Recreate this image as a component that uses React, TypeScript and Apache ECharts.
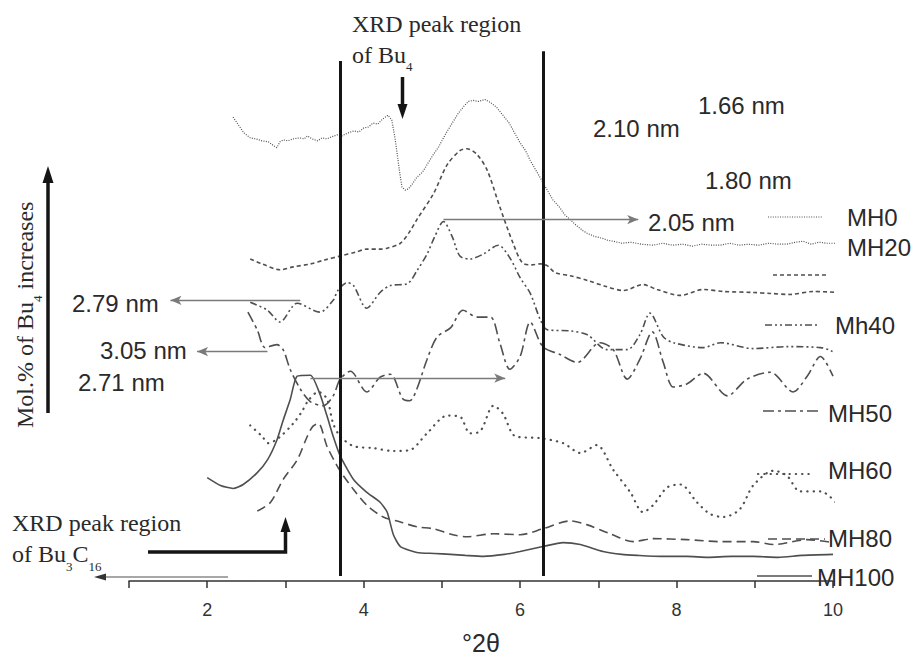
import React, { useEffect, useRef } from 'react';
import * as echarts from 'echarts';

// ---------- data (°2θ, intensity a.u., stacked offsets) ----------
const seriesNames = ['MH0', 'MH20', 'Mh40', 'MH50', 'MH60', 'MH80', 'MH100'];

const mh0: [number, number][] = [
  [2.33, 471], [2.40, 463], [2.47, 455], [2.55, 450], [2.62, 449], [2.70, 447], [2.78, 446], [2.85, 442],
  [2.89, 440], [2.93, 446], [2.97, 448], [3.03, 447], [3.10, 449], [3.18, 450], [3.24, 449], [3.28, 452],
  [3.34, 449], [3.41, 447], [3.47, 450], [3.53, 449], [3.59, 451], [3.66, 453], [3.72, 452], [3.80, 455],
  [3.87, 457], [3.94, 456], [4.00, 460], [4.06, 461], [4.12, 465], [4.18, 464], [4.24, 469], [4.31, 473],
  [4.36, 468], [4.40, 450], [4.43, 433], [4.46, 415], [4.49, 400], [4.53, 397], [4.57, 398], [4.62, 403],
  [4.68, 410], [4.75, 415], [4.82, 424], [4.89, 433], [4.96, 441], [5.02, 450], [5.07, 457], [5.14, 466],
  [5.21, 475], [5.28, 482], [5.34, 487], [5.40, 488], [5.47, 487], [5.55, 489], [5.62, 486], [5.70, 481],
  [5.78, 473], [5.86, 465], [5.93, 455], [6.00, 445], [6.07, 437], [6.13, 427], [6.21, 416], [6.29, 405],
  [6.36, 395], [6.42, 387], [6.50, 380], [6.57, 372], [6.64, 367], [6.72, 361], [6.80, 356], [6.86, 353],
  [6.95, 350], [7.05, 348], [7.12, 346], [7.19, 345], [7.30, 343], [7.42, 344], [7.55, 342], [7.70, 341],
  [7.82, 343], [7.95, 341], [8.08, 342], [8.20, 340], [8.32, 342], [8.45, 341], [8.56, 341], [8.68, 343],
  [8.80, 341], [8.92, 342], [9.05, 341], [9.18, 343], [9.30, 342], [9.41, 342], [9.52, 344], [9.62, 345],
  [9.72, 342], [9.82, 344], [9.92, 343], [10.02, 343], [10.09, 343],
];

const mh20: [number, number][] = [
  [2.55, 327], [2.70, 322], [2.93, 316], [3.10, 319], [3.32, 322], [3.50, 326], [3.70, 330], [3.90, 334],
  [4.04, 337], [4.20, 337], [4.30, 338], [4.47, 343], [4.59, 355], [4.68, 367], [4.89, 393], [5.07, 423],
  [5.23, 437], [5.32, 439], [5.45, 433], [5.58, 417], [5.74, 380], [5.91, 343], [6.03, 323], [6.15, 321],
  [6.26, 322], [6.35, 320], [6.45, 313], [6.64, 310], [6.87, 305], [7.10, 299], [7.32, 295], [7.57, 301],
  [7.75, 296], [8.05, 290], [8.34, 296], [8.60, 294], [8.98, 293], [9.20, 292], [9.45, 291], [9.75, 294],
  [10.06, 293],
];

const mh40: [number, number][] = [
  [2.55, 283], [2.77, 275], [2.93, 263], [3.15, 282], [3.44, 273], [3.61, 285], [3.67, 295], [3.79, 303],
  [3.87, 300], [4.04, 277], [4.21, 293], [4.34, 300], [4.56, 302], [4.68, 315], [4.81, 332], [4.91, 350],
  [5.02, 365], [5.13, 350], [5.23, 330], [5.36, 327], [5.53, 332], [5.72, 341], [5.87, 328], [6.00, 308],
  [6.13, 292], [6.26, 265], [6.35, 255], [6.64, 254], [6.86, 250], [7.11, 235], [7.37, 235], [7.53, 250],
  [7.66, 272], [7.83, 248], [7.96, 242], [8.34, 237], [8.56, 242], [8.98, 236], [9.41, 238], [9.84, 237],
  [9.97, 234], [10.12, 227],
];

const mh50: [number, number][] = [
  [2.52, 273], [2.64, 255], [2.74, 237], [2.89, 240], [2.97, 235], [3.06, 215], [3.19, 195], [3.32, 182],
  [3.48, 178], [3.61, 188], [3.70, 205], [3.83, 213], [4.04, 192], [4.21, 207], [4.34, 210], [4.50, 185],
  [4.59, 183], [4.68, 195], [4.81, 225], [4.94, 248], [5.11, 257], [5.27, 275], [5.45, 268], [5.62, 268],
  [5.74, 242], [5.87, 215], [6.00, 228], [6.13, 263], [6.29, 238], [6.51, 230], [6.73, 222], [7.02, 242],
  [7.19, 235], [7.37, 205], [7.53, 225], [7.69, 253], [7.83, 222], [7.96, 197], [8.13, 200], [8.34, 211],
  [8.65, 188], [8.90, 205], [9.20, 212], [9.49, 192], [9.67, 208], [9.84, 228], [10.00, 208],
];

const mh60: [number, number][] = [
  [2.55, 158], [2.70, 147], [2.78, 140], [2.91, 145], [3.10, 160], [3.21, 172], [3.29, 183], [3.42, 192],
  [3.53, 185], [3.61, 160], [3.70, 147], [3.87, 137], [4.12, 135], [4.38, 132], [4.59, 133], [4.81, 150],
  [5.07, 168], [5.23, 167], [5.36, 150], [5.49, 152], [5.66, 178], [5.78, 170], [5.94, 147], [6.26, 145],
  [6.55, 140], [6.77, 130], [6.98, 138], [7.19, 113], [7.41, 90], [7.57, 70], [7.70, 77], [7.88, 95],
  [8.05, 98], [8.26, 80], [8.43, 68], [8.60, 65], [8.81, 73], [8.98, 97], [9.24, 112], [9.41, 107],
  [9.58, 91], [9.84, 91], [10.09, 75],
];

const mh80: [number, number][] = [
  [2.64, 71], [2.81, 80], [2.97, 103], [3.15, 123], [3.28, 147], [3.35, 157], [3.42, 160], [3.53, 137],
  [3.66, 117], [3.74, 107], [3.87, 93], [4.04, 77], [4.25, 65], [4.47, 60], [4.68, 55], [4.89, 53],
  [5.14, 47], [5.32, 45], [5.66, 48], [6.00, 47], [6.29, 53], [6.64, 61], [6.86, 57], [7.15, 48],
  [7.45, 40], [7.70, 43], [8.13, 42], [8.56, 40], [8.98, 40], [9.24, 37], [9.67, 42], [10.00, 39],
];

const mh100: [number, number][] = [
  [2.00, 105], [2.17, 97], [2.33, 94], [2.46, 98], [2.64, 110], [2.77, 123], [2.89, 143], [2.97, 163],
  [3.06, 184], [3.15, 208], [3.32, 209], [3.44, 190], [3.53, 168], [3.61, 147], [3.70, 127], [3.87, 103],
  [4.04, 90], [4.21, 80], [4.30, 70], [4.38, 47], [4.47, 35], [4.68, 29], [4.90, 28], [5.11, 27],
  [5.30, 26], [5.53, 25], [5.80, 27], [6.00, 30], [6.29, 35], [6.55, 39], [6.77, 37], [7.06, 30],
  [7.30, 27], [7.50, 26], [7.80, 25], [8.13, 25], [8.40, 24], [8.70, 25], [8.98, 25], [9.30, 24],
  [9.60, 26], [10.00, 27],
];

const xTickLabels = [2, 4, 6, 8, 10];
const peakRegionBounds = [3.7, 6.3];
const peakRegionTops = [528, 538];
const spacingArrows: { from: [number, number]; to: [number, number] }[] = [
  { from: [3.19, 285], to: [1.53, 285] },
  { from: [2.77, 233], to: [1.87, 233] },
  { from: [3.32, 206], to: [5.81, 206] },
  { from: [5.02, 367], to: [7.51, 367] },
];
const spacingLabels = ['2.79 nm', '3.05 nm', '2.71 nm', '2.05 nm', '2.10 nm', '1.66 nm', '1.80 nm'];

// ---------- styles / layout ----------
const SANS = '"Liberation Sans", Arial, Helvetica, sans-serif';
const SERIF = '"Liberation Serif", "Times New Roman", Times, serif';
const CURVE = '#4f4f4f';
const TEXT = '#2a2a2a';
const DARK = '#151515';

const curveStyles: any[] = [
  { dash: [1, 1.4], width: 1.2, smooth: false, cap: 'butt' },
  { dash: [4, 3], width: 1.6, smooth: 0.3, cap: 'butt' },
  { dash: [7, 3, 2, 3, 2, 3], width: 1.6, smooth: 0.3, cap: 'butt' },
  { dash: [11, 4, 3, 4], width: 1.6, smooth: 0.3, cap: 'butt' },
  { dash: [0.3, 6], width: 2.2, smooth: 0.3, cap: 'round' },
  { dash: [9, 5], width: 1.6, smooth: 0.3, cap: 'butt' },
  { dash: 'solid', width: 1.6, smooth: 0.2, cap: 'butt' },
];
const curveData = [mh0, mh20, mh40, mh50, mh60, mh80, mh100];

const legendLayout = [
  { sx1: 768, sx2: 823, sy: 217, tx: 847, ty: 217 },
  { sx1: 773, sx2: 828, sy: 275, tx: 847, ty: 247 },
  { sx1: 765, sx2: 820, sy: 325, tx: 835, ty: 325 },
  { sx1: 763, sx2: 818, sy: 411, tx: 828, ty: 413 },
  { sx1: 758, sx2: 813, sy: 474, tx: 828, ty: 470 },
  { sx1: 768, sx2: 825, sy: 539, tx: 828, ty: 538 },
  { sx1: 757, sx2: 812, sy: 576, tx: 817, ty: 577 },
];
const spacingLabelPos = [
  [72, 303], [100, 350], [78, 382], [648, 222], [593, 128], [698, 105], [705, 180],
];

let measureCtx: CanvasRenderingContext2D | null = null;
function measure(text: string, font: string): number {
  if (!measureCtx) measureCtx = document.createElement('canvas').getContext('2d');
  measureCtx!.font = font;
  return measureCtx!.measureText(text).width;
}

type Seg = { t: string; sub?: boolean };
function segText(x: number, y: number, segs: Seg[], size: number, subSize: number, subDy: number, family: string): any[] {
  const els: any[] = [];
  let cx = x;
  for (const s of segs) {
    const fs = s.sub ? subSize : size;
    els.push({
      type: 'text', x: cx, y: s.sub ? y + subDy : y, silent: true,
      style: { text: s.t, fontSize: fs, fontFamily: family, fill: TEXT, textAlign: 'left', textVerticalAlign: 'middle' },
    });
    cx += measure(s.t, `${fs}px ${family}`);
  }
  return els;
}

function sansText(x: number, y: number, text: string, size = 24): any {
  return {
    type: 'text', x, y, silent: true,
    style: { text, fontSize: size, fontFamily: SANS, fill: TEXT, textAlign: 'left', textVerticalAlign: 'middle' },
  };
}

export default function App() {
  const ref = useRef<HTMLDivElement>(null);
  useEffect(() => {
    document.body.style.margin = '0';
    const chart = echarts.init(ref.current!, null, { renderer: 'svg' });

    const series: any[] = seriesNames.map((name, i) => ({
      name,
      type: 'line',
      data: curveData[i],
      showSymbol: false,
      symbol: 'none',
      clip: false,
      smooth: curveStyles[i].smooth,
      lineStyle: { color: CURVE, width: curveStyles[i].width, type: curveStyles[i].dash, cap: curveStyles[i].cap },
      z: 3,
    }));

    series.push({
      name: 'peak-region',
      type: 'line',
      data: [],
      silent: true,
      markLine: {
        silent: true,
        symbol: 'none',
        animation: false,
        label: { show: false },
        lineStyle: { color: DARK, width: 3, type: 'solid' },
        data: peakRegionBounds.map((b, i) => [{ coord: [b, 5] }, { coord: [b, peakRegionTops[i]] }]),
      },
    });

    series.push({
      name: 'spacing-arrows',
      type: 'line',
      data: [],
      silent: true,
      markLine: {
        silent: true,
        symbol: ['none', 'arrow'],
        symbolSize: [7, 11],
        animation: false,
        label: { show: false },
        lineStyle: { color: '#7a7a7a', width: 1.3, type: 'solid' },
        data: spacingArrows.map((a) => [{ coord: a.from }, { coord: a.to }]),
      },
    });

    const graphic: any[] = [];
    // legend
    seriesNames.forEach((name, i) => {
      const L = legendLayout[i];
      const st = curveStyles[i];
      graphic.push({
        type: 'line', silent: true,
        shape: { x1: L.sx1, y1: L.sy, x2: L.sx2, y2: L.sy },
        style: { stroke: CURVE, lineWidth: st.width, lineDash: st.dash === 'solid' ? null : st.dash, lineCap: st.cap },
      });
      graphic.push(sansText(L.tx, L.ty, name, 24));
    });
    // spacing labels
    spacingLabels.forEach((t, i) => graphic.push(sansText(spacingLabelPos[i][0], spacingLabelPos[i][1], t, 24)));

    // serif annotations
    graphic.push(...segText(352, 23.5, [{ t: 'XRD peak region' }], 24, 13, 12, SERIF));
    graphic.push(...segText(352, 54.5, [{ t: 'of Bu' }, { t: '4', sub: true }], 24, 13, 12, SERIF));
    graphic.push(...segText(12, 522.5, [{ t: 'XRD peak region' }], 24, 13, 12, SERIF));
    graphic.push(...segText(12, 554, [{ t: 'of Bu' }, { t: '3', sub: true }, { t: 'C' }, { t: '16', sub: true }], 24, 13, 12, SERIF));
    graphic.push({
      type: 'group', x: 25, y: 428, rotation: Math.PI / 2, silent: true,
      children: segText(0, 0, [{ t: 'Mol.% of Bu' }, { t: '4', sub: true }, { t: ' increases' }], 24, 13, 12, SERIF),
    });

    // thick arrows
    const thick = { stroke: DARK, lineWidth: 3.5, fill: null };
    graphic.push({ type: 'line', silent: true, shape: { x1: 48, y1: 413, x2: 48, y2: 180 }, style: thick });
    graphic.push({ type: 'polygon', silent: true, shape: { points: [[42.5, 183], [53.5, 183], [48, 166]] }, style: { fill: DARK } });
    graphic.push({ type: 'line', silent: true, shape: { x1: 402.5, y1: 77, x2: 402.5, y2: 106 }, style: thick });
    graphic.push({ type: 'polygon', silent: true, shape: { points: [[397.5, 104], [407.5, 104], [402.5, 119]] }, style: { fill: DARK } });
    graphic.push({ type: 'polyline', silent: true, shape: { points: [[148, 552], [285.5, 552], [285.5, 530]] }, style: thick });
    graphic.push({ type: 'polygon', silent: true, shape: { points: [[280.5, 532], [290.5, 532], [285.5, 517]] }, style: { fill: DARK } });
    // thin gray arrow bottom-left
    graphic.push({ type: 'line', silent: true, shape: { x1: 228, y1: 577, x2: 102, y2: 577 }, style: { stroke: '#8a8a8a', lineWidth: 1.3 } });
    graphic.push({ type: 'polygon', silent: true, shape: { points: [[106, 573.5], [106, 580.5], [94, 577]] }, style: { fill: '#333' } });

    chart.setOption({
      animation: false,
      backgroundColor: '#ffffff',
      grid: { left: 129, right: 82, top: 0, bottom: 70, containLabel: false },
      xAxis: {
        type: 'value',
        min: 1,
        max: 10,
        interval: 1,
        name: '°2θ',
        nameLocation: 'middle',
        nameGap: 49,
        nameTextStyle: { fontSize: 25, fontFamily: SANS, color: TEXT },
        axisLine: { show: true, lineStyle: { color: '#333', width: 1.5 } },
        axisTick: { show: true, length: 7, lineStyle: { color: '#333', width: 1.5 } },
        axisLabel: {
          fontSize: 18, fontFamily: SANS, color: '#333', margin: 20,
          formatter: (v: number) => (xTickLabels.indexOf(v) >= 0 ? String(v) : ''),
        },
        splitLine: { show: false },
      },
      yAxis: { type: 'value', min: 0, max: 590, show: false },
      series,
      graphic,
    });
    return () => chart.dispose();
  }, []);
  return <div ref={ref} style={{ width: 915, height: 660, background: '#fff' }} />;
}
